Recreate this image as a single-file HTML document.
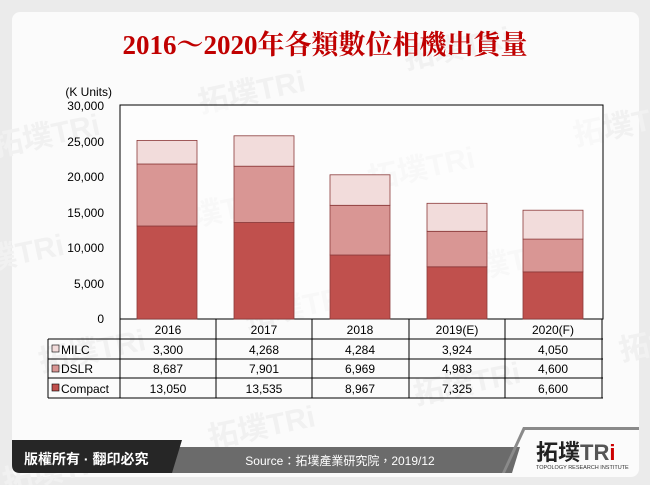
<!DOCTYPE html>
<html><head><meta charset="utf-8"><style>
body{margin:0;width:650px;height:485px;background:#ebebeb;overflow:hidden;font-family:"Liberation Sans","Noto Sans CJK TC",sans-serif}
</style></head><body>
<svg width="650" height="485" xmlns="http://www.w3.org/2000/svg" style="position:absolute;left:0;top:0">
<rect x="12" y="12" width="627" height="465" rx="8" fill="#fbfbfb"/>
<g fill="#f1f1f1" font-family="Liberation Sans,Noto Sans CJK TC,sans-serif" font-weight="bold" font-size="30" transform="rotate(-12 325 240)">
<text x="20" y="90">拓墣TRi</text><text x="230" y="90">拓墣TRi</text><text x="440" y="90">拓墣TRi</text>
<text x="-40" y="200">拓墣TRi</text><text x="170" y="200">拓墣TRi</text><text x="380" y="200">拓墣TRi</text><text x="590" y="200">拓墣TRi</text>
<text x="20" y="310">拓墣TRi</text><text x="230" y="310">拓墣TRi</text><text x="440" y="310">拓墣TRi</text>
<text x="-40" y="420">拓墣TRi</text><text x="170" y="420">拓墣TRi</text><text x="380" y="420">拓墣TRi</text><text x="590" y="420">拓墣TRi</text>
</g>
<text x="325" y="54" text-anchor="middle" fill="#c00000" font-family="Liberation Serif,Noto Serif CJK SC,serif" font-weight="bold" font-size="27">2016～2020年各類數位相機出貨量</text>
<g font-size="12" fill="#000" text-anchor="end">
<text x="112" y="96">(K Units)</text>
<text x="104" y="110">30,000</text><text x="104" y="146">25,000</text><text x="104" y="181">20,000</text>
<text x="104" y="217">15,000</text><text x="104" y="252">10,000</text><text x="104" y="288">5,000</text><text x="104" y="323">0</text>
</g>
<rect x="120" y="105" width="483" height="214" fill="#fff" fill-opacity="0.5" stroke="#000"/>
<g stroke="#8b3a3a" stroke-width="0.8">
<rect x="137" y="226" width="60" height="93" fill="#c0504d"/>
<rect x="137" y="164" width="60" height="62" fill="#d99694"/>
<rect x="137" y="140.4" width="60" height="23.6" fill="#f2dcdb"/>
<rect x="234" y="222.5" width="60" height="96.5" fill="#c0504d"/>
<rect x="234" y="166.2" width="60" height="56.3" fill="#d99694"/>
<rect x="234" y="135.8" width="60" height="30.4" fill="#f2dcdb"/>
<rect x="330" y="255" width="60" height="64" fill="#c0504d"/>
<rect x="330" y="205.3" width="60" height="49.7" fill="#d99694"/>
<rect x="330" y="174.8" width="60" height="30.5" fill="#f2dcdb"/>
<rect x="427" y="266.8" width="60" height="52.2" fill="#c0504d"/>
<rect x="427" y="231.3" width="60" height="35.5" fill="#d99694"/>
<rect x="427" y="203.3" width="60" height="28" fill="#f2dcdb"/>
<rect x="523" y="271.9" width="60" height="47.1" fill="#c0504d"/>
<rect x="523" y="239.1" width="60" height="32.8" fill="#d99694"/>
<rect x="523" y="210.2" width="60" height="28.9" fill="#f2dcdb"/>
</g>
<g stroke="#000" fill="none">
<path d="M120 319V398M216 319V398M312 319V398M409 319V398M505 319V398M602 319V398M48 339V398"/>
<path d="M48 339H603M48 359H603M48 378H603M48 398H603"/>
</g>
<g font-size="12" text-anchor="middle">
<text x="168" y="334">2016</text><text x="264" y="334">2017</text><text x="360" y="334">2018</text><text x="457" y="334">2019(E)</text><text x="553" y="334">2020(F)</text>
<text x="168" y="354">3,300</text><text x="264" y="354">4,268</text><text x="360" y="354">4,284</text><text x="457" y="354">3,924</text><text x="553" y="354">4,050</text>
<text x="168" y="373">8,687</text><text x="264" y="373">7,901</text><text x="360" y="373">6,969</text><text x="457" y="373">4,983</text><text x="553" y="373">4,600</text>
<text x="168" y="393">13,050</text><text x="264" y="393">13,535</text><text x="360" y="393">8,967</text><text x="457" y="393">7,325</text><text x="553" y="393">6,600</text>
</g>
<g font-size="12">
<rect x="52" y="345" width="7" height="7" fill="#f2dcdb" stroke="#000" stroke-width="0.6"/><text x="61" y="354">MILC</text>
<rect x="52" y="365" width="7" height="7" fill="#d99694" stroke="#000" stroke-width="0.6"/><text x="61" y="373">DSLR</text>
<rect x="52" y="384" width="7" height="7" fill="#c0504d" stroke="#000" stroke-width="0.6"/><text x="61" y="393">Compact</text>
</g>
<path d="M170 447H520L512 473H170Z" fill="#6b6b6b"/>
<path d="M12 440H182L172 473H20Q12 473 12 465Z" fill="#262626"/>
<path d="M505 473L525 430H639V427H523L502 473Z" fill="#8a8a8a"/>
<text x="24" y="464" fill="#fff" font-size="14" font-weight="bold">版權所有 · 翻印必究</text>
<text x="340" y="465" fill="#fff" font-size="12" text-anchor="middle">Source：拓墣產業研究院，2019/12</text>
<text x="536" y="460" fill="#222" font-size="22" font-weight="bold">拓墣<tspan fill="#555">TR</tspan><tspan fill="#c00">i</tspan></text>
<text x="536" y="469" fill="#333" font-size="5.5">TOPOLOGY RESEARCH INSTITUTE</text>
</svg>
</body></html>
